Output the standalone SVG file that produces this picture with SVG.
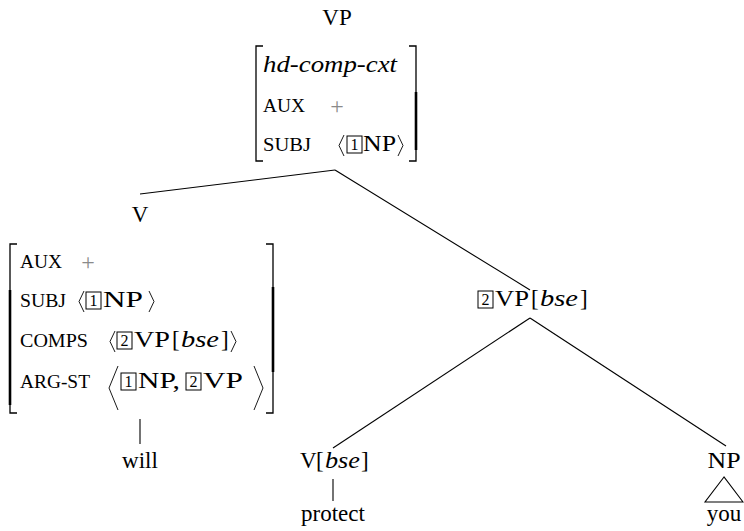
<svg xmlns="http://www.w3.org/2000/svg" width="744" height="531" viewBox="0 0 744 531">
<style>
.t{font-family:"Liberation Serif","Times New Roman",serif;font-size:23px;fill:#000}
.i{font-style:italic}
.sc{font-size:18px}
.d{font-size:16px}
.g{fill:#8a8a8a;font-size:24px}
.bx{fill:none;stroke:#000;stroke-width:1}
.ln{fill:none;stroke:#000;stroke-width:1.1}
.ab{fill:none;stroke:#000;stroke-width:0.9}
.br{fill:none;stroke:#000;stroke-width:1.3}
.bt{fill:none;stroke:#000;stroke-width:2.6}
</style>
<g id="connectors">
<line class="ln" x1="335" y1="170" x2="140" y2="194"/>
<line class="ln" x1="335" y1="170" x2="530" y2="290"/>
<line class="ln" x1="530" y1="318" x2="333" y2="448"/>
<line class="ln" x1="530" y1="318" x2="726" y2="446"/>
<line class="ln" x1="140" y1="419" x2="140" y2="444"/>
<line class="ln" x1="333" y1="479" x2="333" y2="501"/>
</g>
<g id="vp-top">
<text class="t" x="337" y="25" text-anchor="middle">VP</text>
<path class="br" d="M263,46 H256 V161 H263"/>
<path class="br" d="M409,46 H416 V161 H409"/>
<line class="bt" x1="416" y1="92" x2="416" y2="150"/>
<text class="t i" x="263" y="72" textLength="134" lengthAdjust="spacingAndGlyphs">hd-comp-cxt</text>
<text class="t sc" x="263" y="112" textLength="42" lengthAdjust="spacingAndGlyphs">AUX</text>
<text class="t g" x="337" y="114" text-anchor="middle">+</text>
<text class="t sc" x="263" y="151" textLength="48" lengthAdjust="spacingAndGlyphs">SUBJ</text>
<path class="ab" d="M344,135 L339,145.5 L344,156"/>
<rect class="bx" x="347" y="136" width="15" height="17"/>
<text class="t d" x="354.5" y="150" text-anchor="middle">1</text>
<text class="t" x="363" y="151" textLength="33" lengthAdjust="spacingAndGlyphs">NP</text>
<path class="ab" d="M398,135 L403,145.5 L398,156"/>
</g>
<g id="v-left">
<text class="t" x="140" y="222" text-anchor="middle">V</text>
<path class="br" d="M17,244 H10 V413 H17"/>
<path class="br" d="M266,244 H273 V413 H266"/>
<line class="bt" x1="273" y1="287" x2="273" y2="372"/>
<line class="bt" x1="10" y1="290" x2="10" y2="405"/>
<text class="t sc" x="20" y="268" textLength="42" lengthAdjust="spacingAndGlyphs">AUX</text>
<text class="t g" x="88" y="270" text-anchor="middle">+</text>
<text class="t sc" x="20" y="307" textLength="46" lengthAdjust="spacingAndGlyphs">SUBJ</text>
<path class="ab" d="M84,291 L79,301.5 L84,312"/>
<rect class="bx" x="86" y="292" width="15" height="17"/>
<text class="t d" x="93.5" y="306" text-anchor="middle">1</text>
<text class="t" x="103" y="307" textLength="40" lengthAdjust="spacingAndGlyphs">NP</text>
<path class="ab" d="M149,291 L154,301.5 L149,312"/>
<text class="t sc" x="20" y="347" textLength="68" lengthAdjust="spacingAndGlyphs">COMPS</text>
<path class="ab" d="M115,331 L110,341.5 L115,352"/>
<rect class="bx" x="117" y="332" width="15" height="17"/>
<text class="t d" x="124.5" y="346" text-anchor="middle">2</text>
<text class="t" x="134" y="347" textLength="36" lengthAdjust="spacingAndGlyphs">VP</text>
<text class="t" x="172" y="347">[</text>
<text class="t i" x="181" y="347" textLength="38" lengthAdjust="spacingAndGlyphs">bse</text>
<text class="t" x="221" y="347">]</text>
<path class="ab" d="M231,331 L236,341.5 L231,352"/>
<text class="t sc" x="20" y="388" textLength="70" lengthAdjust="spacingAndGlyphs">ARG-ST</text>
<path class="ab" d="M118,366 L109,388 L118,410"/>
<rect class="bx" x="121" y="373" width="15" height="17"/>
<text class="t d" x="128.5" y="387" text-anchor="middle">1</text>
<text class="t" x="138" y="388" textLength="42" lengthAdjust="spacingAndGlyphs">NP,</text>
<rect class="bx" x="186" y="373" width="15" height="17"/>
<text class="t d" x="193.5" y="387" text-anchor="middle">2</text>
<text class="t" x="203" y="388" textLength="40" lengthAdjust="spacingAndGlyphs">VP</text>
<path class="ab" d="M254,366 L263,388 L254,410"/>
</g>
<g id="will">
<text class="t" x="140" y="468" text-anchor="middle">will</text>
</g>
<g id="vp-bse">
<rect class="bx" x="478" y="291" width="15" height="17"/>
<text class="t d" x="485.5" y="305" text-anchor="middle">2</text>
<text class="t" x="495" y="306" textLength="34" lengthAdjust="spacingAndGlyphs">VP</text>
<text class="t" x="531" y="306">[</text>
<text class="t i" x="540" y="306" textLength="38" lengthAdjust="spacingAndGlyphs">bse</text>
<text class="t" x="580" y="306">]</text>
</g>
<g id="v-bse">
<text class="t" x="300" y="468">V</text>
<text class="t" x="316" y="468">[</text>
<text class="t i" x="325" y="468" textLength="35" lengthAdjust="spacingAndGlyphs">bse</text>
<text class="t" x="361" y="468">]</text>
</g>
<g id="protect">
<text class="t" x="333" y="521" text-anchor="middle">protect</text>
</g>
<g id="np">
<text class="t" x="724" y="468" text-anchor="middle" textLength="33" lengthAdjust="spacingAndGlyphs">NP</text>
<path class="ln" d="M724,477 L705,502 L743,502 Z"/>
</g>
<g id="you">
<text class="t" x="724" y="521" text-anchor="middle">you</text>
</g>
</svg>
